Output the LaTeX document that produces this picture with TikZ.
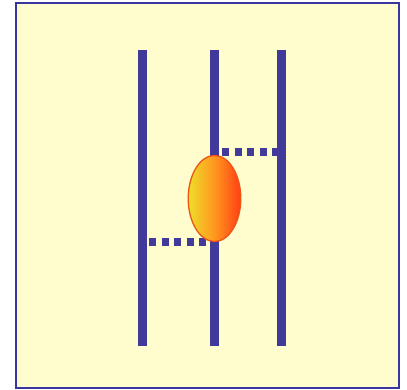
\documentclass[tikz,border=0pt]{standalone}
\usepackage{tikz}
\definecolor{bgyellow}{RGB}{255,253,206}
\definecolor{frameblue}{RGB}{58,54,160}
\definecolor{barblue}{RGB}{66,58,154}
\definecolor{ovalleft}{RGB}{238,222,40}
\definecolor{ovalmid}{RGB}{255,150,30}
\definecolor{ovalright}{RGB}{255,62,20}
\definecolor{ovalrim}{RGB}{238,84,22}
\tikzset{
  bar/.style={barblue, line width=9pt},
  dotbar/.style={barblue, line width=8pt, dash pattern=on 7pt off 5.5pt},
}
\begin{document}
\begin{tikzpicture}[x=1pt,y=-1pt]
\useasboundingbox (0,0) rectangle (407,390);
\fill[white] (0,0) rectangle (407,390);
\draw[frameblue, line width=2pt, fill=bgyellow] (16,3.5) rectangle (399.2,388);
% vertical bars
\coordinate (t1) at (142.5,50.5); \coordinate (b1) at (142.5,346);
\coordinate (t2) at (214.5,50.5); \coordinate (b2) at (214.5,346);
\coordinate (t3) at (281.7,50.5); \coordinate (b3) at (281.7,346);
\draw[bar] (t1) -- (b1);
\draw[bar] (t2) -- (b2);
\draw[bar] (t3) -- (b3);
% dotted connectors
\coordinate (u1) at (222,152.5); \coordinate (u2) at (277.5,152.5);
\coordinate (l1) at (149,242.5); \coordinate (l2) at (209,242.5);
\draw[dotbar] (u1) -- (u2);
\draw[dotbar] (l1) -- (l2);
% oval
\shade[left color=ovalleft, right color=ovalright, middle color=ovalmid]
  (214.5,198.5) ellipse [x radius=26.3, y radius=43];
\draw[ovalrim, line width=1.3pt] (214.5,198.5) ellipse [x radius=26.3, y radius=43];
\end{tikzpicture}
\end{document}
